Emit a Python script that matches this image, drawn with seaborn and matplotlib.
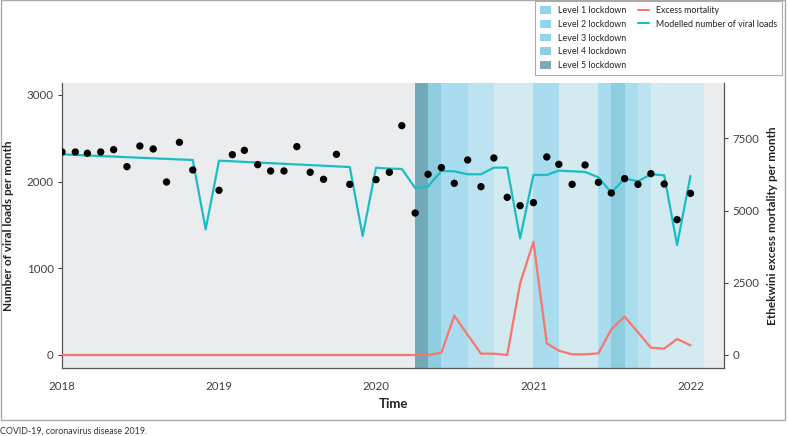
import numpy as np
import pandas as pd
import matplotlib
matplotlib.use("Agg")
import matplotlib.pyplot as plt
import matplotlib.dates as mdates
from matplotlib.patches import Patch, Rectangle
from matplotlib.lines import Line2D
import seaborn as sns

sns.set_theme(style="white")
plt.rcParams['font.family'] = ['Lato', 'DejaVu Sans']

# ---------------- data ----------------
months = pd.date_range("2018-01-01", "2022-01-01", freq="MS")

observed = [
    2342, 2342, 2327, 2342, 2369, 2173, 2411, 2377, 1996, 2454, 2135, np.nan,
    1900, 2311, 2361, 2196, 2123, 2123, 2404, 2108, 2027, 2315, 1969, np.nan,
    2023, 2108, 2646, 1638, 2085, 2162, 1981, 2250, 1942, 2273, 1819, 1723,
    1758, 2285, 2200, 1969, 2192, 1992, 1869, 2035, 1969, 2092, 1973, 1561,
    1865,
]
modelled = [
    2315, 2308, 2302, 2295, 2289, 2282, 2276, 2269, 2263, 2256, 2250, 1450,
    2242, 2235, 2228, 2220, 2213, 2206, 2198, 2191, 2184, 2176, 2169, 1373,
    2161, 2150, 2146, 1927, 1946, 2123, 2119, 2085, 2085, 2162, 2162, 1346,
    2077, 2077, 2127, 2119, 2112, 2050, 1873, 2035, 2004, 2085, 2073, 1269,
    2065,
]
excess = [
    0, 0, 0, 0, 0, 0, 0, 0, 0, 0, 0, 0,
    0, 0, 0, 0, 0, 0, 0, 0, 0, 0, 0, 0,
    0, 0, 0, 0, 0, 80, 1362, 700, 46, 46, 0, 2480,
    3923, 404, 150, 23, 23, 58, 888, 1327, 785, 254, 219, 554,
    335,
]

band_starts = ["2020-04-01", "2020-05-01", "2020-06-01", "2020-08-01", "2020-10-01",
               "2021-01-01", "2021-03-01", "2021-06-01", "2021-07-01", "2021-08-01",
               "2021-09-01", "2021-10-01"]
band_ends = ["2020-05-01", "2020-06-01", "2020-08-01", "2020-10-01", "2021-01-01",
             "2021-03-01", "2021-06-01", "2021-07-01", "2021-08-01", "2021-09-01",
             "2021-10-01", "2022-02-01"]
band_levels = [5, 4, 3, 2, 1, 3, 1, 3, 4, 3, 2, 1]

level_colors = {1: "#d3eaf1", 2: "#bde3f0", 3: "#a8dcee", 4: "#8ecde0", 5: "#73a8b8"}
legend_colors = {1: "#8fd4ef", 2: "#8fd4ef", 3: "#8fd4ef", 4: "#8fcde0", 5: "#7fa8b8"}
legend_labels = ["Level 1 lockdown", "Level 2 lockdown", "Level 3 lockdown",
                 "Level 4 lockdown", "Level 5 lockdown"]

df = pd.DataFrame({"month": months, "observed": observed,
                   "modelled": modelled, "excess": excess})

RED = "#f8766d"
TEAL = "#19bec3"
TXT = "#404040"

# ---------------- figure ----------------
fig = plt.figure(figsize=(7.88, 4.36), dpi=100)
ax = fig.add_axes([62 / 788, 1 - 368 / 436, (724 - 62) / 788, (368 - 83) / 436])
ax.set_facecolor("#ebecee")

for s, e, lv in zip(band_starts, band_ends, band_levels):
    ax.axvspan(pd.Timestamp(s), pd.Timestamp(e), color=level_colors[lv], lw=0, zorder=0)

ax2 = ax.twinx()

sns.lineplot(data=df, x="month", y="modelled", ax=ax, color=TEAL, lw=1.6, zorder=3)
sns.scatterplot(data=df, x="month", y="observed", ax=ax, color="black", s=28,
                edgecolor="none", zorder=4)
sns.lineplot(data=df, x="month", y="excess", ax=ax2, color=RED, lw=1.6, zorder=3)

ax.set_xlim(pd.Timestamp("2018-01-01"), pd.Timestamp("2022-03-20"))
ax.set_ylim(-150, 3138)
ax2.set_ylim(-450, 9414)
ax.set_yticks([0, 1000, 2000, 3000])
ax2.set_yticks([0, 2500, 5000, 7500])
ax.xaxis.set_major_locator(mdates.YearLocator())
ax.xaxis.set_major_formatter(mdates.DateFormatter("%Y"))

for a in (ax, ax2):
    for sp in a.spines.values():
        sp.set_color("#555555")
        sp.set_linewidth(0.9)
    a.spines["top"].set_visible(False)
    a.tick_params(colors=TXT, labelsize=8.3, length=3, width=0.8, pad=3)
ax.spines["right"].set_visible(False)
ax2.spines["left"].set_visible(False)
ax2.spines["bottom"].set_visible(False)
ax.tick_params(axis="x", pad=6)

ax.set_xlabel("Time", fontsize=9.5, fontweight="bold", color="#222222")
ax.set_ylabel("Number of viral loads per month", fontsize=8.5, fontweight="bold", color="#222222")
ax2.set_ylabel("Ethekwini excess mortality per month", fontsize=8.5, fontweight="bold",
               color="#222222")
ax.xaxis.set_label_coords(0.5, -30 / 285)
ax.yaxis.set_label_coords(-(62 - 14) / 662, 0.5)
ax2.yaxis.set_label_coords((767 - 62) / 662, 0.5)

# legend
handles = [Patch(facecolor=legend_colors[i], edgecolor="none") for i in range(1, 6)]
labels = list(legend_labels)
handles += [Line2D([], [], color=RED, lw=1.5), Line2D([], [], color=TEAL, lw=1.5)]
labels += ["Excess mortality", "Modelled number of viral loads"]
for _ in range(3):
    handles.append(Line2D([], [], color="none"))
    labels.append("")
leg = fig.legend(handles, labels, ncol=2, loc="upper right",
                 bbox_to_anchor=(783 / 788, 1.0), fontsize=6.4, frameon=True,
                 fancybox=False, edgecolor="#999999", handlelength=1.2,
                 handleheight=1.0, labelspacing=0.52, columnspacing=1.3,
                 handletextpad=0.8, borderpad=0.6, borderaxespad=0.1,
                 labelcolor="#222222")
leg.get_frame().set_linewidth(0.8)

# figure frame
fig.patches.append(Rectangle((1 / 788, 1 - 420 / 436), 784 / 788, 420 / 436,
                             transform=fig.transFigure, fill=False,
                             edgecolor="#aaaaaa", lw=1.0, zorder=-1))
fig.text(0.0, 1 - 431 / 436, "COVID-19, coronavirus disease 2019.", fontsize=6.4,
         color="#333333", va="center", ha="left")

fig.savefig("out.png", dpi=100)
